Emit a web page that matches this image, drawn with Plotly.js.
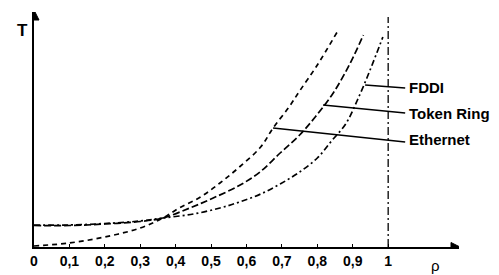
<!DOCTYPE html>
<html>
<head>
<meta charset="utf-8">
<script src="https://cdn.plot.ly/plotly-3.0.1.min.js"></script>
<style>html,body{margin:0;padding:0;background:#fff;}#chart{width:499px;height:275px;}</style>
</head>
<body>
<div id="chart"></div>
<script>
// ---- data ----
const rhoEthernet = [0, 0.1, 0.2, 0.3, 0.364, 0.41, 0.47, 0.525, 0.58, 0.64, 0.675, 0.72, 0.75, 0.8, 0.856];
const tEthernet   = [0.1, 0.4, 1.0, 1.9, 2.9, 3.9, 5.0, 6.4, 8.0, 10.0, 11.9, 14.0, 15.6, 18.2, 21.5];

const rhoTokenRing = [0, 0.1, 0.2, 0.3, 0.364, 0.44, 0.506, 0.582, 0.638, 0.695, 0.75, 0.794, 0.845, 0.893, 0.93];
const tTokenRing   = [2.15, 2.15, 2.3, 2.55, 2.9, 3.9, 4.9, 6.2, 7.5, 9.4, 11.2, 13.0, 15.4, 18.4, 21.2];

const rhoFDDI = [0, 0.1, 0.2, 0.3, 0.364, 0.45, 0.525, 0.58, 0.64, 0.695, 0.75, 0.8, 0.84, 0.88, 0.912, 0.949, 0.985];
const tFDDI   = [2.2, 2.2, 2.35, 2.6, 2.9, 3.3, 3.9, 4.5, 5.3, 6.3, 7.5, 8.9, 10.6, 12.3, 14.6, 17.7, 21.0];

const tickValues = [0, 0.1, 0.2, 0.3, 0.4, 0.5, 0.6, 0.7, 0.8, 0.9, 1];
const tickLabels = ["0", "0,1", "0,2", "0,3", "0,4", "0,5", "0,6", "0,7", "0,8", "0,9", "1"];

const seriesNames = ["Ethernet", "Token Ring", "FDDI"];
// leader lines: point on curve -> label position
const leaderFrom = [[0.675, 11.9], [0.816, 14.2], [0.935, 16.2]];
const leaderTo   = [[1.048, 10.5], [1.048, 13.4], [1.048, 15.9]];
const labelPos   = [[1.053, 10.8], [1.053, 13.4], [1.053, 16.0]];

// ---- drawing ----
const FONT = "Liberation Sans, Arial, Helvetica, sans-serif";
const lineW = 1.7;
const traces = [
  {x: rhoEthernet, y: tEthernet, mode: "lines", line: {color: "#000", width: lineW, dash: "5px,4px", shape: "spline"}, name: seriesNames[0]},
  {x: rhoTokenRing, y: tTokenRing, mode: "lines", line: {color: "#000", width: lineW, dash: "7px,3px", shape: "spline"}, name: seriesNames[1]},
  {x: rhoFDDI, y: tFDDI, mode: "lines", line: {color: "#000", width: lineW, dash: "6px,3px,2px,3px", shape: "spline"}, name: seriesNames[2]}
];

const shapes = [
  // vertical reference line at rho = 1
  {type: "line", xref: "x", yref: "y", x0: 1, x1: 1, y0: 0, y1: 23, line: {color: "#000", width: 1.3, dash: "8px,3px,2px,3px"}},
  // y arrow head
  {type: "path", xref: "x", yref: "y", xsizemode: "pixel", ysizemode: "pixel", xanchor: 0, yanchor: 23.5,
   path: "M0,2 L-5,-8 L5,-8 Z", fillcolor: "#000", line: {color: "#000", width: 1}},
  // x arrow head
  {type: "path", xref: "x", yref: "y", xsizemode: "pixel", ysizemode: "pixel", xanchor: 1.2, yanchor: 0,
   path: "M1,0 L-8,-4.5 L-8,4.5 Z", fillcolor: "#000", line: {color: "#000", width: 1}}
];
for (let i = 0; i < 3; i++) {
  shapes.push({type: "line", xref: "x", yref: "y", x0: leaderFrom[i][0], y0: leaderFrom[i][1], x1: leaderTo[i][0], y1: leaderTo[i][1],
               line: {color: "#000", width: 1.7}});
}

const annotations = [
  {xref: "paper", yref: "paper", x: -0.026, y: 0.92, text: "T", showarrow: false, xanchor: "center", yanchor: "middle",
   font: {family: FONT, size: 17, weight: "bold", color: "#000"}},
  {xref: "x", yref: "paper", x: 1.135, y: -0.08, text: "ρ", showarrow: false, xanchor: "center", yanchor: "middle",
   font: {family: FONT, size: 15, color: "#000"}}
];
for (let i = 0; i < 3; i++) {
  annotations.push({xref: "x", yref: "y", x: labelPos[i][0], y: labelPos[i][1], text: seriesNames[i], showarrow: false,
    xanchor: "left", yanchor: "middle", font: {family: FONT, size: 15, weight: "bold", color: "#000"}});
}

const layout = {
  width: 499, height: 275,
  margin: {l: 34, r: 40, t: 12, b: 28, pad: 0},
  paper_bgcolor: "#fff", plot_bgcolor: "#fff",
  showlegend: false,
  xaxis: {range: [0, 1.2], tickvals: tickValues, ticktext: tickLabels, showgrid: false, zeroline: false,
          showline: true, linecolor: "#000", linewidth: 2, ticks: "inside", ticklen: 3, tickcolor: "#000", tickwidth: 1,
          tickfont: {family: FONT, size: 14, weight: "bold", color: "#000"}, fixedrange: true},
  yaxis: {range: [0, 23.5], showgrid: false, zeroline: false, showticklabels: false, ticks: "",
          showline: true, linecolor: "#000", linewidth: 2, fixedrange: true},
  shapes: shapes,
  annotations: annotations
};

Plotly.newPlot("chart", traces, layout, {displayModeBar: false, staticPlot: true});
</script>
</body>
</html>
